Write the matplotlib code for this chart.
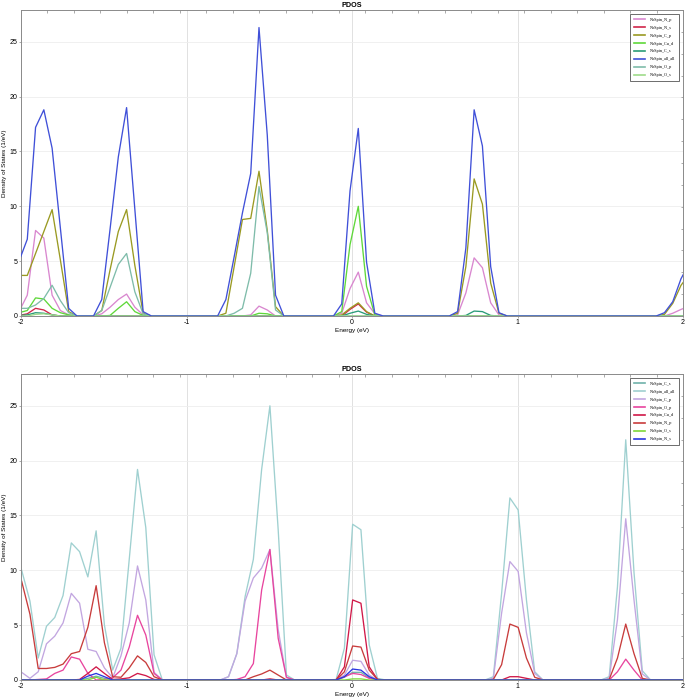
import numpy as np
import matplotlib
matplotlib.use("Agg")
import matplotlib.pyplot as plt
from matplotlib.ticker import FixedLocator, MultipleLocator

plt.rcParams['font.family'] = ['Liberation Sans', 'DejaVu Sans']

# ---- energy grids (eV) ----
top_energy = -2.012 + 0.05 * np.arange(82)
bot_energy = -1.996 + 0.05 * np.arange(81)

# ---- top panel PDOS, stored as (start index, values) segments; zero elsewhere ----
top_N_p = [(0, [0.4, 1.9, 7.8, 7.1, 1.9, 0.5, 0.1, 0]),
           (9, [0, 0.2, 0.8, 1.5, 2.0, 0.8, 0.1, 0]),
           (27, [0, 0.1, 0.9, 0.55, 0]),
           (38, [0, 0.25, 2.5, 4.0, 1.2, 0.2, 0]),
           (52, [0, 0.1, 2.1, 5.3, 4.4, 1.2, 0.1, 0]),
           (78, [0, 0.25, 0.6, 0.9])]
top_N_s = [(0, [0.05, 0.2, 0.7, 0.55, 0.1, 0, 0]),
           (39, [0, 0.6, 1.1, 0.35, 0])]
top_C_p = [(0, [3.7, 3.7, 5.7, 7.7, 9.7, 5.1, 0.4, 0]),
           (9, [0, 0.5, 4.2, 7.7, 9.7, 4.6, 0.25, 0]),
           (24, [0, 0.25, 4.5, 8.8, 8.9, 13.2, 7.8, 0.85, 0]),
           (38, [0, 0.1, 0.7, 1.2, 0.4, 0]),
           (52, [0, 0.25, 4.5, 12.5, 10.2, 3.0, 0.25, 0]),
           (77, [0, 0.15, 1.15, 2.8, 3.8])]
top_Cu_d = [(0, [0.3, 0.5, 1.65, 1.55, 0.7, 0.3, 0.1, 0]),
            (10, [0, 0.05, 0.7, 1.3, 0.4, 0.05, 0]),
            (28, [0, 0.25, 0.2, 0]),
            (38, [0, 0.4, 6.5, 10.0, 2.7, 0.1, 0])]
top_C_s = [(0, [0.05, 0.1, 0.3, 0.25, 0.1, 0, 0]),
           (39, [0, 0.25, 0.45, 0.15, 0]),
           (53, [0, 0.05, 0.45, 0.4, 0.05, 0])]
top_all_all = [(0, [5.0, 7.0, 17.2, 18.8, 15.3, 8.0, 0.7, 0]),
               (9, [0, 1.5, 7.9, 14.5, 19.0, 9.7, 0.4, 0]),
               (24, [0, 1.5, 5.4, 9.4, 13.0, 26.3, 16.5, 1.9, 0]),
               (38, [0, 1.1, 11.4, 17.1, 4.9, 0.25, 0]),
               (52, [0, 0.4, 6.2, 18.8, 15.5, 4.5, 0.3, 0]),
               (77, [0, 0.3, 1.3, 3.4, 4.8])]
top_O_p = [(0, [0.7, 0.7, 1.0, 1.6, 2.8, 1.4, 0.3, 0]),
           (9, [0, 0.5, 2.6, 4.7, 5.7, 2.2, 0.2, 0]),
           (24, [0, 0, 0.25, 0.7, 3.9, 11.8, 7.6, 0.55, 0])]
top_O_s = [(1, [0, 0.15, 0.2, 0.1, 0])]

top_names = ["NoSpin_N_p", "NoSpin_N_s", "NoSpin_C_p", "NoSpin_Cu_d",
             "NoSpin_C_s", "NoSpin_all_all", "NoSpin_O_p", "NoSpin_O_s"]
top_series = [top_N_p, top_N_s, top_C_p, top_Cu_d, top_C_s, top_all_all, top_O_p, top_O_s]
top_colors = ["#d987cf", "#d0264a", "#9a9a22", "#5fd83a", "#2a9c78", "#4050d8", "#7fbcaa", "#9edb8a"]

# ---- bottom panel PDOS ----
bot_C_s = [(7, [0, 0.15, 0.35, 0.15, 0]),
           (38, [0, 0.25, 0.7, 0.7, 0.2, 0])]
bot_all_all = [(0, [10.0, 7.2, 2.0, 4.9, 5.7, 7.7, 12.5, 11.7, 9.4, 13.6, 5.0, 0.9, 2.9,
                    11.0, 19.2, 13.9, 2.3, 0, 0]),
               (23, [0, 0, 0.3, 2.4, 7.6, 11.0, 19.2, 25.0, 13.7, 0.45, 0]),
               (37, [0, 0.05, 2.9, 14.2, 13.7, 3.2, 0.15, 0]),
               (55, [0, 0, 0.3, 7.9, 16.6, 15.5, 7.3, 0.75, 0]),
               (70, [0, 0.3, 8.5, 21.9, 9.8, 0.85, 0])]
bot_C_p = [(0, [0.7, 0.15, 0.75, 3.3, 4.0, 5.2, 7.9, 7.0, 2.8, 2.6, 1.1, 0.2, 2.2, 5.2,
                10.4, 7.3, 0.7, 0, 0]),
           (24, [0, 0.3, 2.4, 7.2, 9.3, 10.2, 11.9, 4.6, 0.2, 0]),
           (38, [0, 0.45, 1.8, 1.7, 0.45, 0]),
           (56, [0, 0.15, 6.1, 10.8, 9.9, 4.3, 0.6, 0]),
           (70, [0, 0.15, 5.5, 14.7, 7.3, 0.55, 0])]
bot_O_p = [(0, [0, 0, 0.05, 0.1, 0.6, 0.9, 2.1, 1.9, 0.6, 0, 0.05, 0.2, 0.9, 3.0, 5.9,
                4.1, 0.6, 0, 0]),
           (26, [0.05, 0.3, 1.5, 8.2, 11.9, 3.8, 0.25, 0]),
           (38, [0, 0.3, 0.6, 0.5, 0.15, 0]),
           (70, [0, 0, 0.75, 1.9, 0.9, 0, 0])]
bot_Cu_d = [(6, [0, 0.05, 0.6, 1.2, 0.6, 0.05, 0.1, 0.2, 0.6, 0.4, 0.05, 0]),
            (29, [0, 0.1, 0]),
            (38, [0, 1.2, 7.3, 7.0, 1.2, 0.05, 0]),
            (58, [0, 0.3, 0.3, 0.15, 0])]
bot_N_p = [(0, [9.0, 6.0, 1.05, 1.05, 1.15, 1.45, 2.4, 2.6, 4.8, 8.6, 3.4, 0.3, 0.25, 1.1,
                2.2, 1.6, 0.3, 0, 0]),
           (27, [0, 0.3, 0.55, 0.9, 0.45, 0, 0]),
           (38, [0, 0.75, 3.1, 3.0, 0.9, 0.05, 0]),
           (56, [0, 0.05, 1.4, 5.1, 4.8, 2.0, 0.25, 0]),
           (70, [0, 0.05, 2.0, 5.1, 2.4, 0.15, 0])]
bot_O_s = [(8, [0, 0.25, 0]),
           (39, [0, 0.1, 0.1, 0])]
bot_N_s = [(7, [0, 0.35, 0.6, 0.3, 0]),
           (38, [0, 0.3, 1.0, 0.9, 0.3, 0, 0])]

bot_names = ["NoSpin_C_s", "NoSpin_all_all", "NoSpin_C_p", "NoSpin_O_p",
             "NoSpin_Cu_d", "NoSpin_N_p", "NoSpin_O_s", "NoSpin_N_s"]
bot_series = [bot_C_s, bot_all_all, bot_C_p, bot_O_p, bot_Cu_d, bot_N_p, bot_O_s, bot_N_s]
bot_colors = ["#6fb2aa", "#9fd0d0", "#c2a6e0", "#e8459e", "#d01848", "#c83c3c", "#7ed83a", "#2a36e0"]


def expand(segments, n):
    y = np.zeros(n)
    for start, vals in segments:
        y[start:start + len(vals)] = vals
    return y


def draw_panel(ax, energy, series, names, colors, top_zorder=None):
    for seg, name, col in zip(series, names, colors):
        z = 3 if name == top_zorder else 2
        ax.plot(energy, expand(seg, len(energy)), color=col, lw=0.95, label=name, zorder=z)
    ax.set_xlim(-2, 2)
    ax.set_ylim(0, 27.9)
    ax.set_title("PDOS", fontsize=5.2, fontweight="bold", pad=2)
    ax.set_xlabel("Energy (eV)", fontsize=4.6, labelpad=1)
    ax.set_ylabel("Density of States (1/eV)", fontsize=4.6, labelpad=2)
    ax.xaxis.set_major_locator(MultipleLocator(1))
    ax.yaxis.set_major_locator(MultipleLocator(5))
    ax.xaxis.set_minor_locator(FixedLocator(np.linspace(-2, 2, 26)))
    ax.yaxis.set_minor_locator(FixedLocator(np.linspace(0, 27.9, 15)))
    ax.tick_params(which="major", labelsize=5, length=1.5, width=0.5, color="#888888", pad=1,
                   direction="out")
    ax.tick_params(which="minor", bottom=False, left=False, top=True, right=True,
                   direction="in", length=1.8, width=0.5, color="#888888")
    ax.xaxis.set_major_formatter(matplotlib.ticker.FuncFormatter(lambda v, p: f"{v:.0f}"))
    ax.grid(True, which="major", axis="y", color="#eeeeee", lw=0.6, zorder=0)
    ax.grid(True, which="major", axis="x", color="#dcdcdc", lw=0.6, zorder=0)
    for s in ax.spines.values():
        s.set_color("#8a8a8a")
        s.set_linewidth(0.7)
    leg = ax.legend(loc="upper right", bbox_to_anchor=(1 - 4 / 662, 1 - 4 / 306),
                    borderaxespad=0, prop={"family": "Liberation Serif", "size": 3.1},
                    fancybox=False, framealpha=1, edgecolor="#555555",
                    handlelength=2.6, handletextpad=1.0, labelspacing=0.9,
                    borderpad=0.9)
    leg.get_frame().set_linewidth(0.6)
    for h in leg.legend_handles:
        h.set_linewidth(1.2)


fig = plt.figure(figsize=(6.86, 7.0), dpi=100)
ax1 = fig.add_axes([21 / 686, 1 - 316 / 700, 662 / 686, 306 / 700])
ax2 = fig.add_axes([21 / 686, 1 - 680 / 700, 662 / 686, 306 / 700])

draw_panel(ax1, top_energy, top_series, top_names, top_colors, top_zorder="NoSpin_all_all")
draw_panel(ax2, bot_energy, bot_series, bot_names, bot_colors)

fig.savefig("out.png", dpi=100)
